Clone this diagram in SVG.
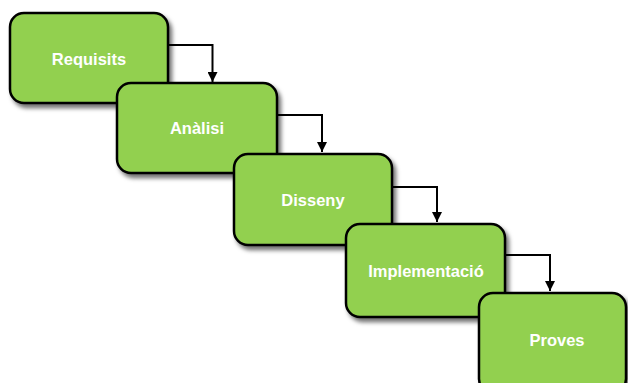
<svg xmlns="http://www.w3.org/2000/svg" width="628" height="383" viewBox="0 0 628 383">
  <style>
    .box { fill: #92d050; stroke: #000; stroke-width: 2.5; filter: url(#shadow); }
    .label { fill: #fff; font-family: "Liberation Sans", Arial, sans-serif; font-weight: bold; font-size: 16.5px; text-anchor: middle; }
    .link { fill: none; stroke: #000; stroke-width: 2; marker-end: url(#head); }
  </style>
  <defs>
    <filter id="shadow" x="-10%" y="-10%" width="130%" height="140%">
      <feDropShadow dx="3" dy="4" stdDeviation="2.2" flood-color="#000" flood-opacity="0.55"/>
    </filter>
    <marker id="head" viewBox="0 0 10 10" refX="10" refY="5" markerWidth="5" markerHeight="5" markerUnits="strokeWidth" orient="auto">
      <path d="M0,0 L10,5 L0,10 Z" fill="#000"/>
    </marker>
  </defs>

  <g id="requisits">
    <rect class="box" x="10" y="13" width="158" height="90" rx="14"/>
    <text class="label" x="89" y="65">Requisits</text>
  </g>
  <g id="analisi">
    <rect class="box" x="117" y="83" width="160" height="90" rx="14"/>
    <text class="label" x="197" y="134">Anàlisi</text>
  </g>
  <g id="disseny">
    <rect class="box" x="234" y="154" width="158" height="91" rx="14"/>
    <text class="label" x="313" y="206">Disseny</text>
  </g>
  <g id="implementacio">
    <rect class="box" x="346" y="224" width="159" height="93" rx="14"/>
    <text class="label" x="426" y="277">Implementació</text>
  </g>
  <g id="proves">
    <rect class="box" x="479" y="293" width="147" height="100" rx="14"/>
    <text class="label" x="557" y="346">Proves</text>
  </g>

  <g id="connectors">
    <path class="link" d="M168,45 H212.5 V82"/>
    <path class="link" d="M277,115 H322 V152"/>
    <path class="link" d="M392,187 H437 V222"/>
    <path class="link" d="M505,255 H550 V291"/>
  </g>
</svg>
